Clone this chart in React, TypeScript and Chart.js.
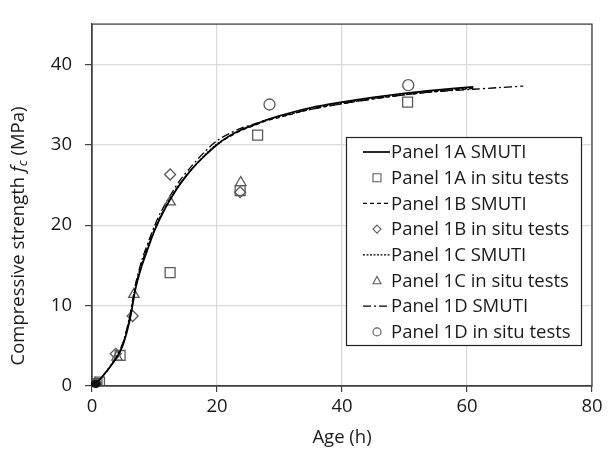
import React, { useEffect, useRef } from "react";
import { Chart, registerables } from "chart.js";

Chart.register(...registerables);

// ---- data ----
const curveAges = [0, 0.5, 1, 2, 3, 4, 5, 6, 7, 8, 9, 10, 11, 12, 13, 14, 16, 18, 20, 22, 24, 26, 28, 30, 35, 40, 45, 50, 55, 61];
const curve1A = [0, 0.2, 0.6, 1.5, 2.5, 3.6, 5.2, 8.0, 12.2, 15.0, 17.2, 19.3, 21.0, 22.5, 23.8, 25.0, 27.0, 28.6, 30.0, 31.1, 31.9, 32.5, 33.1, 33.6, 34.6, 35.3, 35.9, 36.4, 36.8, 37.2];
const curve1B = [0, 0.2, 0.6, 1.5, 2.5, 3.7, 5.4, 8.4, 12.5, 15.4, 17.5, 19.5, 21.2, 22.6, 23.9, 25.1, 27.0, 28.6, 30.0, 31.0, 31.8, 32.4, 33.0, 33.4, 34.4, 35.1, 35.7, 36.2, 36.6, 37.0];
const curve1C = [0, 0.2, 0.6, 1.5, 2.5, 3.7, 5.3, 8.2, 12.4, 15.3, 17.4, 19.4, 21.1, 22.6, 23.9, 25.1, 27.0, 28.7, 30.1, 31.1, 31.9, 32.5, 33.1, 33.5, 34.5, 35.2, 35.8, 36.3, 36.7, 37.1];
const curveAges1D = [0, 0.5, 1, 2, 3, 4, 5, 6, 7, 8, 9, 10, 11, 12, 13, 14, 16, 18, 20, 22, 24, 26, 28, 30, 35, 40, 45, 50, 55, 61, 65, 69];
const curve1D = [0, 0.2, 0.6, 1.5, 2.6, 3.8, 5.5, 8.6, 12.8, 15.7, 17.9, 19.9, 21.6, 23.0, 24.3, 25.5, 27.4, 29.1, 30.5, 31.4, 32.1, 32.6, 33.1, 33.5, 34.4, 35.1, 35.7, 36.2, 36.6, 36.9, 37.1, 37.3];

const test1AAge = [0.3, 0.8, 1.2, 4.5, 12.5, 23.7, 26.5, 50.5];
const test1AVal = [0.1, 0.3, 0.5, 3.8, 14.1, 24.3, 31.2, 35.3];
const test1BAge = [0.2, 0.6, 3.8, 6.5, 12.5, 23.7];
const test1BVal = [0.1, 0.2, 4.0, 8.7, 26.3, 24.1];
const test1CAge = [0.2, 0.6, 4.0, 6.7, 12.5, 23.8];
const test1CVal = [0.1, 0.3, 3.6, 11.4, 22.9, 25.3];
const test1DAge = [0.2, 0.6, 28.4, 50.6];
const test1DVal = [0.1, 0.2, 35.0, 37.4];

const xTicks = [0, 20, 40, 60, 80];
const yTicks = [0, 10, 20, 30, 40];

const labels = [
  "Panel 1A SMUTI",
  "Panel 1A in situ tests",
  "Panel 1B SMUTI",
  "Panel 1B in situ tests",
  "Panel 1C SMUTI",
  "Panel 1C in situ tests",
  "Panel 1D SMUTI",
  "Panel 1D in situ tests",
];

const zip = (xs: number[], ys: number[]) => xs.map((x, i) => ({ x, y: ys[i] }));

const FONT = "'Open Sans', 'Noto Sans', sans-serif";
const FS = 18.5;
const TEXT = "#1a1a1a";
const AXIS = "#404040";
const MARK = "#5a5a5a";

const lineDs = (label: string, data: any[], dash: number[], width: number) => ({
  label,
  data,
  showLine: true,
  borderColor: "#000",
  borderWidth: width,
  borderDash: dash,
  pointRadius: 0,
  pointHoverRadius: 0,
  tension: 0.3,
  fill: false,
});

const ptDs = (label: string, data: any[], style: string, r: number) => ({
  label,
  data,
  showLine: false,
  pointStyle: style,
  pointRadius: r,
  pointBorderColor: MARK,
  borderColor: MARK,
  pointBackgroundColor: "rgba(255,255,255,0)",
  backgroundColor: "rgba(255,255,255,0)",
  pointBorderWidth: 1.3,
});

const legendPlugin = {
  id: "boxLegend",
  afterDraw(chart: any) {
    const ctx = chart.ctx;
    const { left, top, right, bottom } = chart.chartArea;
    // plot border
    ctx.save();
    ctx.strokeStyle = AXIS;
    ctx.lineWidth = 1.3;
    ctx.strokeRect(left, top, right - left, bottom - top);
    ctx.restore();

    // blob of early-age markers near origin
    ctx.save();
    const xs = chart.scales.x, ys = chart.scales.y;
    ctx.fillStyle = "#111";
    ctx.beginPath();
    ctx.ellipse(xs.getPixelForValue(0.6), ys.getPixelForValue(0.25), 5, 4, 0, 0, Math.PI * 2);
    ctx.fill();
    ctx.restore();

    // legend box
    const bx = 346, by = 137, bw = 235, bh = 208;
    ctx.save();
    ctx.fillStyle = "#fff";
    ctx.fillRect(bx, by, bw, bh);
    ctx.strokeStyle = "#222";
    ctx.lineWidth = 1.2;
    ctx.strokeRect(bx + 0.5, by + 0.5, bw, bh);
    const rowH = 25.7;
    const firstY = 152;
    ctx.font = `${FS}px ${FONT}`;
    ctx.textBaseline = "middle";
    ctx.fillStyle = TEXT;
    chart.data.datasets.forEach((ds: any, i: number) => {
      const y = firstY + i * rowH;
      if (ds.showLine) {
        ctx.save();
        ctx.strokeStyle = "#000";
        ctx.lineWidth = ds.borderWidth;
        ctx.setLineDash(ds.borderDash || []);
        ctx.beginPath();
        ctx.moveTo(363, y);
        ctx.lineTo(390, y);
        ctx.stroke();
        ctx.restore();
      } else {
        ctx.save();
        ctx.strokeStyle = MARK;
        ctx.lineWidth = 1.1;
        const cx = 377;
        const s = 4;
        ctx.beginPath();
        if (ds.pointStyle === "rect") {
          ctx.rect(cx - s, y - s, 2 * s, 2 * s);
        } else if (ds.pointStyle === "rectRot") {
          ctx.moveTo(cx, y - s);
          ctx.lineTo(cx + s, y);
          ctx.lineTo(cx, y + s);
          ctx.lineTo(cx - s, y);
          ctx.closePath();
        } else if (ds.pointStyle === "triangle") {
          ctx.moveTo(cx, y - s);
          ctx.lineTo(cx + s, y + s * 0.8);
          ctx.lineTo(cx - s, y + s * 0.8);
          ctx.closePath();
        } else {
          ctx.arc(cx, y, s, 0, Math.PI * 2);
        }
        ctx.stroke();
        ctx.restore();
      }
      ctx.fillText(ds.label, 391, y + 1);
    });
    ctx.restore();

    // y axis title with italic f and subscript c
    ctx.save();
    ctx.translate(19, 236);
    ctx.rotate(-Math.PI / 2);
    ctx.fillStyle = TEXT;
    ctx.textBaseline = "middle";
    const fNorm = `${FS}px ${FONT}`;
    const fIt = `italic ${FS}px ${FONT}`;
    const fSub = `italic 13px ${FONT}`;
    const parts = [
      { t: "Compressive strength ", f: fNorm, dy: 0 },
      { t: "f", f: fIt, dy: 0 },
      { t: "c", f: fSub, dy: 4.5 },
      { t: " (MPa)", f: fNorm, dy: 0 },
    ];
    let total = 0;
    parts.forEach((p) => {
      ctx.font = p.f;
      total += ctx.measureText(p.t).width;
    });
    let x = -total / 2;
    parts.forEach((p) => {
      ctx.font = p.f;
      ctx.fillText(p.t, x, p.dy);
      x += ctx.measureText(p.t).width;
    });
    ctx.restore();
  },
};

export default function App() {
  const ref = useRef<HTMLCanvasElement>(null);
  useEffect(() => {
    if (!ref.current) return;
    const chart = new Chart(ref.current, {
      type: "scatter",
      data: {
        datasets: [
          lineDs(labels[0], zip(curveAges, curve1A), [], 1.7),
          ptDs(labels[1], zip(test1AAge, test1AVal), "rect", 7),
          lineDs(labels[2], zip(curveAges, curve1B), [4, 3], 1.3),
          ptDs(labels[3], zip(test1BAge, test1BVal), "rectRot", 5.5),
          lineDs(labels[4], zip(curveAges, curve1C), [2, 1.5], 1.3),
          ptDs(labels[5], zip(test1CAge, test1CVal), "triangle", 6),
          lineDs(labels[6], zip(curveAges1D, curve1D), [8, 3, 2, 3], 1.3),
          ptDs(labels[7], zip(test1DAge, test1DVal), "circle", 5.5),
        ] as any,
      },
      options: {
        responsive: false,
        animation: false,
        layout: { padding: { left: 0, top: 13, right: 20, bottom: 0 } },
        plugins: {
          legend: { display: false },
          tooltip: { enabled: false },
        },
        scales: {
          x: {
            type: "linear",
            min: 0,
            max: 80,
            afterBuildTicks: (s: any) => {
              s.ticks = xTicks.map((v) => ({ value: v }));
            },
            afterFit: (s: any) => {
              s.height = 67;
            },
            grid: { color: "#d9d9d9", lineWidth: 1.2, tickColor: AXIS, tickLength: 6 },
            border: { display: true, color: AXIS, width: 1.3 },
            ticks: { color: TEXT, font: { family: FONT, size: FS }, padding: 4, maxRotation: 0 },
            title: {
              display: true,
              text: "Age (h)",
              color: TEXT,
              font: { family: FONT, size: FS },
              padding: { top: 0, bottom: 4 },
            },
          },
          y: {
            type: "linear",
            min: 0,
            max: 45,
            afterBuildTicks: (s: any) => {
              s.ticks = yTicks.map((v) => ({ value: v }));
            },
            afterFit: (s: any) => {
              s.width = 92;
            },
            grid: { color: "#d9d9d9", lineWidth: 1.2, tickColor: AXIS, tickLength: 7 },
            border: { display: true, color: AXIS, width: 1.3 },
            ticks: { color: TEXT, font: { family: FONT, size: FS }, padding: 13 },
          },
        },
      },
      plugins: [legendPlugin],
    } as any);
    return () => chart.destroy();
  }, []);
  return (
    <div style={{ position: "fixed", left: 0, top: 0, width: 612, height: 453, background: "#fff" }}>
      <canvas ref={ref} width={612} height={453} style={{ display: "block" }} />
    </div>
  );
}
